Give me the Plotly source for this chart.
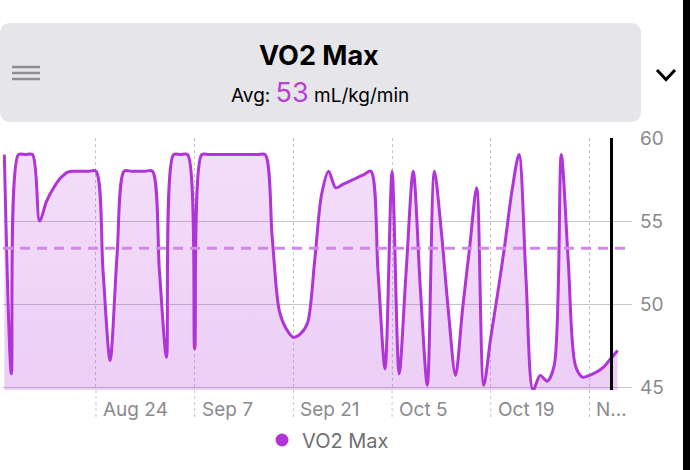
import plotly.graph_objects as go

# ---------------- data ----------------
DATES = [
    "2024-08-11", "2024-08-12", "2024-08-13", "2024-08-14", "2024-08-15", "2024-08-16",
    "2024-08-17", "2024-08-18", "2024-08-19", "2024-08-20", "2024-08-21", "2024-08-22",
    "2024-08-23", "2024-08-24", "2024-08-25", "2024-08-26", "2024-08-27", "2024-08-28",
    "2024-08-29", "2024-08-30", "2024-08-31", "2024-09-01", "2024-09-02", "2024-09-03",
    "2024-09-04", "2024-09-05", "2024-09-06", "2024-09-07", "2024-09-08", "2024-09-09",
    "2024-09-10", "2024-09-11", "2024-09-12", "2024-09-13", "2024-09-14", "2024-09-15",
    "2024-09-16", "2024-09-17", "2024-09-18", "2024-09-19", "2024-09-20", "2024-09-21",
    "2024-09-22", "2024-09-23", "2024-09-24", "2024-09-25", "2024-09-26", "2024-09-27",
    "2024-09-28", "2024-09-29", "2024-09-30", "2024-10-01", "2024-10-02", "2024-10-03",
    "2024-10-04", "2024-10-05", "2024-10-06", "2024-10-07", "2024-10-08", "2024-10-09",
    "2024-10-10", "2024-10-11", "2024-10-12", "2024-10-13", "2024-10-14", "2024-10-15",
    "2024-10-16", "2024-10-17", "2024-10-18", "2024-10-19", "2024-10-20", "2024-10-21",
    "2024-10-22", "2024-10-23", "2024-10-24", "2024-10-25", "2024-10-26", "2024-10-27",
    "2024-10-28", "2024-10-29", "2024-10-30", "2024-10-31", "2024-11-01", "2024-11-02",
    "2024-11-03", "2024-11-04", "2024-11-05", "2024-11-06",
]
VO2 = [
    59, 45.8, 59, 59, 59, 55,
    56.2, 57.0, 57.6, 57.95, 58, 58,
    58, 58, 52, 46.6, 53, 58,
    58, 58, 58, 58, 52, 46.8,
    59, 59, 59, 47.3, 59, 59,
    59, 59, 59, 59, 59, 59,
    59, 59, 54, 49.6, 48.5, 48.0,
    48.2, 48.85, 52.5, 56.6, 58, 57.0,
    57.2, 57.4, 57.6, 57.8, 58, 52,
    46.1, 58, 45.8, 52, 58, 51,
    45.1, 58, 54.3, 49.5, 45.7, 49.7,
    53.4, 57, 45.1, 48, 50.7, 53.6,
    56.8, 59, 51.5, 44.8, 45.7, 45.35,
    46.3, 59, 52.5, 46.3, 45.6, 45.7,
    45.9, 46.2, 46.7, 47.2,
]
AVG = 53.36
TICK_DATES = ["2024-08-24", "2024-09-07", "2024-09-21", "2024-10-05", "2024-10-19", "2024-11-02"]
TICK_LABELS = ["Aug 24", "Sep 7", "Sep 21", "Oct 5", "Oct 19", "N…"]
Y_TICKS = [45, 50, 55, 60]
CURRENT_DATE = "2024-11-05 03:00"
TITLE = "VO2 Max"
UNIT = "mL/kg/min"
SERIES_NAME = "VO2 Max"

# ---------------- styling ----------------
PURPLE = "#b034d8"
AVG_COLOR = "#d08ae6"
GRID = "#c6c6ca"
LABEL = "#8a8a8e"
FONT = "Inter, Roboto, sans-serif"

W, H = 690, 470
ML, MR, MT, MB = 3, 58, 138, 80
PW, PH = W - ML - MR, H - MT - MB


def px(xp):
    return (xp - ML) / PW


def py(yp):
    return (H - MB - yp) / PH


fig = go.Figure()

fig.add_trace(go.Scatter(
    x=DATES, y=VO2, mode="lines",
    line=dict(color=PURPLE, width=3, shape="spline", smoothing=0.85),
    fill="tozeroy",
    fillgradient=dict(type="vertical", start=45, stop=60,
                      colorscale=[[0, "rgba(180,52,216,0.24)"], [1, "rgba(185,52,225,0.16)"]]),
    showlegend=False, hoverinfo="skip",
))
# legend entry (circle)
fig.add_trace(go.Scatter(
    x=[None], y=[None], mode="markers", name=SERIES_NAME,
    marker=dict(color=PURPLE, size=13, symbol="circle"),
))

shapes = []
# header rounded box
x0, x1 = px(0), px(641)
yb, yt = py(122), py(23)
rx, ry = 11 / PW, 11 / PH
path = (f"M {x0+rx},{yt} L {x1-rx},{yt} Q {x1},{yt} {x1},{yt-ry} "
        f"L {x1},{yb+ry} Q {x1},{yb} {x1-rx},{yb} L {x0+rx},{yb} "
        f"Q {x0},{yb} {x0},{yb+ry} L {x0},{yt-ry} Q {x0},{yt} {x0+rx},{yt} Z")
shapes.append(dict(type="path", path=path, xref="paper", yref="paper",
                   fillcolor="#e5e5ea", line=dict(width=0), layer="below"))
# hamburger icon
for yy in (67, 73, 79):
    shapes.append(dict(type="line", xref="paper", yref="paper",
                       x0=px(12), x1=px(40), y0=py(yy), y1=py(yy),
                       line=dict(color="#8e8e93", width=2.5)))
# chevron
shapes.append(dict(type="path", xref="paper", yref="paper",
                   path=f"M {px(657)},{py(70)} L {px(666)},{py(79.5)} L {px(675)},{py(70)}",
                   line=dict(color="black", width=3)))
# right black band
shapes.append(dict(type="rect", xref="paper", yref="paper",
                   x0=px(683), x1=px(692), y0=py(472), y1=py(-2),
                   fillcolor="black", line=dict(width=0)))
# dashed x-grid extensions below the plot
for d in TICK_DATES:
    shapes.append(dict(type="line", xref="x", yref="paper", x0=d, x1=d,
                       y0=0, y1=py(420), line=dict(color=GRID, width=1, dash="3px,3px")))
# average line
shapes.append(dict(type="line", xref="paper", yref="y", x0=0, x1=1, y0=AVG, y1=AVG,
                   line=dict(color=AVG_COLOR, width=3, dash="10px,7px")))
# current-date marker
shapes.append(dict(type="line", xref="x", yref="paper", x0=CURRENT_DATE, x1=CURRENT_DATE,
                   y0=0, y1=1, line=dict(color="black", width=3)))

annotations = [
    dict(text=f"<b>{TITLE}</b>", xref="paper", yref="paper", x=px(319), y=py(55),
         showarrow=False, font=dict(size=27, color="black", family=FONT),
         xanchor="center", yanchor="middle"),
    dict(text=f"Avg: <span style='color:#b83fd6;font-size:27px'>{round(AVG)}</span> {UNIT}",
         xref="paper", yref="paper", x=px(320), y=py(92),
         showarrow=False, font=dict(size=19, color="black", family=FONT),
         xanchor="center", yanchor="middle"),
]
for d, t in zip(TICK_DATES, TICK_LABELS):
    annotations.append(dict(text=t, xref="x", yref="paper", x=d, y=py(409),
                            xanchor="left", yanchor="middle", xshift=5, showarrow=False,
                            font=dict(size=19, color=LABEL, family=FONT)))

fig.update_layout(
    width=W, height=H,
    margin=dict(l=ML, r=MR, t=MT, b=MB, pad=0),
    paper_bgcolor="white", plot_bgcolor="white",
    font=dict(family=FONT, color=LABEL),
    shapes=shapes, annotations=annotations,
    showlegend=True,
    legend=dict(orientation="h", x=px(262), y=py(440), xanchor="left", yanchor="middle",
                font=dict(size=20, color="#6e6e73", family=FONT),
                bgcolor="rgba(0,0,0,0)", itemwidth=30),
    xaxis=dict(type="date", range=["2024-08-10 19:30", "2024-11-08 00:45"],
               tickvals=TICK_DATES, showticklabels=False, ticks="",
               showgrid=True, gridcolor=GRID, gridwidth=1, griddash="3px,3px",
               zeroline=False, showline=False, fixedrange=True),
    yaxis=dict(side="right", range=[44.82, 60], tickvals=Y_TICKS,
               showgrid=True, gridcolor=GRID, gridwidth=1,
               tickfont=dict(size=19, color=LABEL, family=FONT),
               zeroline=False, showline=False, ticks="", ticklabelstandoff=7),
)

fig.write_html("out.html")
